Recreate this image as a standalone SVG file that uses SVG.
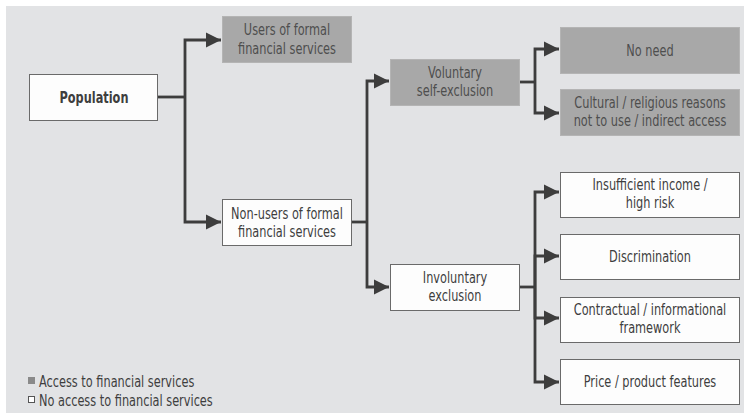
<svg xmlns="http://www.w3.org/2000/svg" width="744" height="413" viewBox="0 0 744 413">
<defs>
<style>
.bg{fill:#e2e3e5}
.g rect{fill:#a8a8a8;stroke:#b4b4b4;stroke-width:1}
.w rect{fill:#fdfdfd;stroke:#6a6a6a;stroke-width:1}
text{font-family:"DejaVu Sans Condensed","Liberation Sans",sans-serif;font-size:15px;text-anchor:middle}
.g text{fill:#4e4e4e}
.w text{fill:#3e3e3e}
.b{font-weight:bold}
.lg{text-anchor:start;fill:#3e3e3e}
#connectors path{fill:none;stroke:#3d3d3d;stroke-width:2.8}
</style>
<marker id="ah" viewBox="0 0 10 10" refX="10" refY="5" markerWidth="5.4" markerHeight="5.6" markerUnits="strokeWidth" orient="auto">
<path d="M0,0 L10,5 L0,10 Z" fill="#3d3d3d"/>
</marker>
</defs>
<rect class="bg" x="6" y="6" width="738" height="407"/>
<g id="connectors">
<path d="M158,97 H185"/>
<path d="M185,97 V40 H221" marker-end="url(#ah)"/>
<path d="M185,97 V222 H221" marker-end="url(#ah)"/>
<path d="M352,222 H367"/>
<path d="M367,222 V81 H389" marker-end="url(#ah)"/>
<path d="M367,222 V287 H389" marker-end="url(#ah)"/>
<path d="M520,82 H535"/>
<path d="M535,82 V49 H559" marker-end="url(#ah)"/>
<path d="M535,82 V113 H559" marker-end="url(#ah)"/>
<path d="M520,287 H535"/>
<path d="M535,287 V192 H559" marker-end="url(#ah)"/>
<path d="M535,287 V256 H559" marker-end="url(#ah)"/>
<path d="M535,287 V318 H559" marker-end="url(#ah)"/>
<path d="M535,287 V382 H559" marker-end="url(#ah)"/>
</g>
<g id="population" class="w">
<rect x="29.5" y="74.5" width="128" height="46"/>
<text transform="translate(94,102.5) scale(0.84,1)" class="b">Population</text>
</g>
<g id="users" class="g">
<rect x="222.5" y="16.5" width="129" height="46"/>
<text transform="translate(287,34.5) scale(0.84,1)">Users of formal</text>
<text transform="translate(287,53.5) scale(0.84,1)">financial services</text>
</g>
<g id="nonusers" class="w">
<rect x="222.5" y="199.5" width="129" height="46"/>
<text transform="translate(287,218.5) scale(0.84,1)">Non-users of formal</text>
<text transform="translate(287,236.5) scale(0.84,1)">financial services</text>
</g>
<g id="voluntary" class="g">
<rect x="390.5" y="59.5" width="129" height="46"/>
<text transform="translate(455,77.5) scale(0.84,1)">Voluntary</text>
<text transform="translate(455,95.5) scale(0.84,1)">self-exclusion</text>
</g>
<g id="involuntary" class="w">
<rect x="390.5" y="264.5" width="129" height="46"/>
<text transform="translate(455,282.5) scale(0.84,1)">Involuntary</text>
<text transform="translate(455,300.5) scale(0.84,1)">exclusion</text>
</g>
<g id="noneed" class="g">
<rect x="560.5" y="27.5" width="179" height="46"/>
<text transform="translate(650,55.5) scale(0.84,1)">No need</text>
</g>
<g id="cultural" class="g">
<rect x="560.5" y="89.5" width="179" height="46"/>
<text transform="translate(650,107.5) scale(0.84,1)">Cultural / religious reasons</text>
<text transform="translate(650,125.5) scale(0.84,1)">not to use / indirect access</text>
</g>
<g id="insufficient" class="w">
<rect x="560.5" y="172.5" width="179" height="45"/>
<text transform="translate(650,189.5) scale(0.84,1)">Insufficient income /</text>
<text transform="translate(650,207.5) scale(0.84,1)">high risk</text>
</g>
<g id="discrimination" class="w">
<rect x="560.5" y="234.5" width="179" height="45"/>
<text transform="translate(650,261.5) scale(0.84,1)">Discrimination</text>
</g>
<g id="contractual" class="w">
<rect x="560.5" y="297.5" width="179" height="45"/>
<text transform="translate(650,314.5) scale(0.84,1)">Contractual / informational</text>
<text transform="translate(650,332.5) scale(0.84,1)">framework</text>
</g>
<g id="price" class="w">
<rect x="560.5" y="359.5" width="179" height="45"/>
<text transform="translate(650,386.5) scale(0.84,1)">Price / product features</text>
</g>
<g id="legend">
<rect x="28" y="377" width="7" height="7" fill="#8a8a8a"/>
<text class="lg" transform="translate(39,386.5) scale(0.84,1)">Access to financial services</text>
<rect x="28.5" y="396.5" width="6" height="6" fill="#fff" stroke="#555" stroke-width="1"/>
<text class="lg" transform="translate(39,405.5) scale(0.84,1)">No access to financial services</text>
</g>
</svg>
